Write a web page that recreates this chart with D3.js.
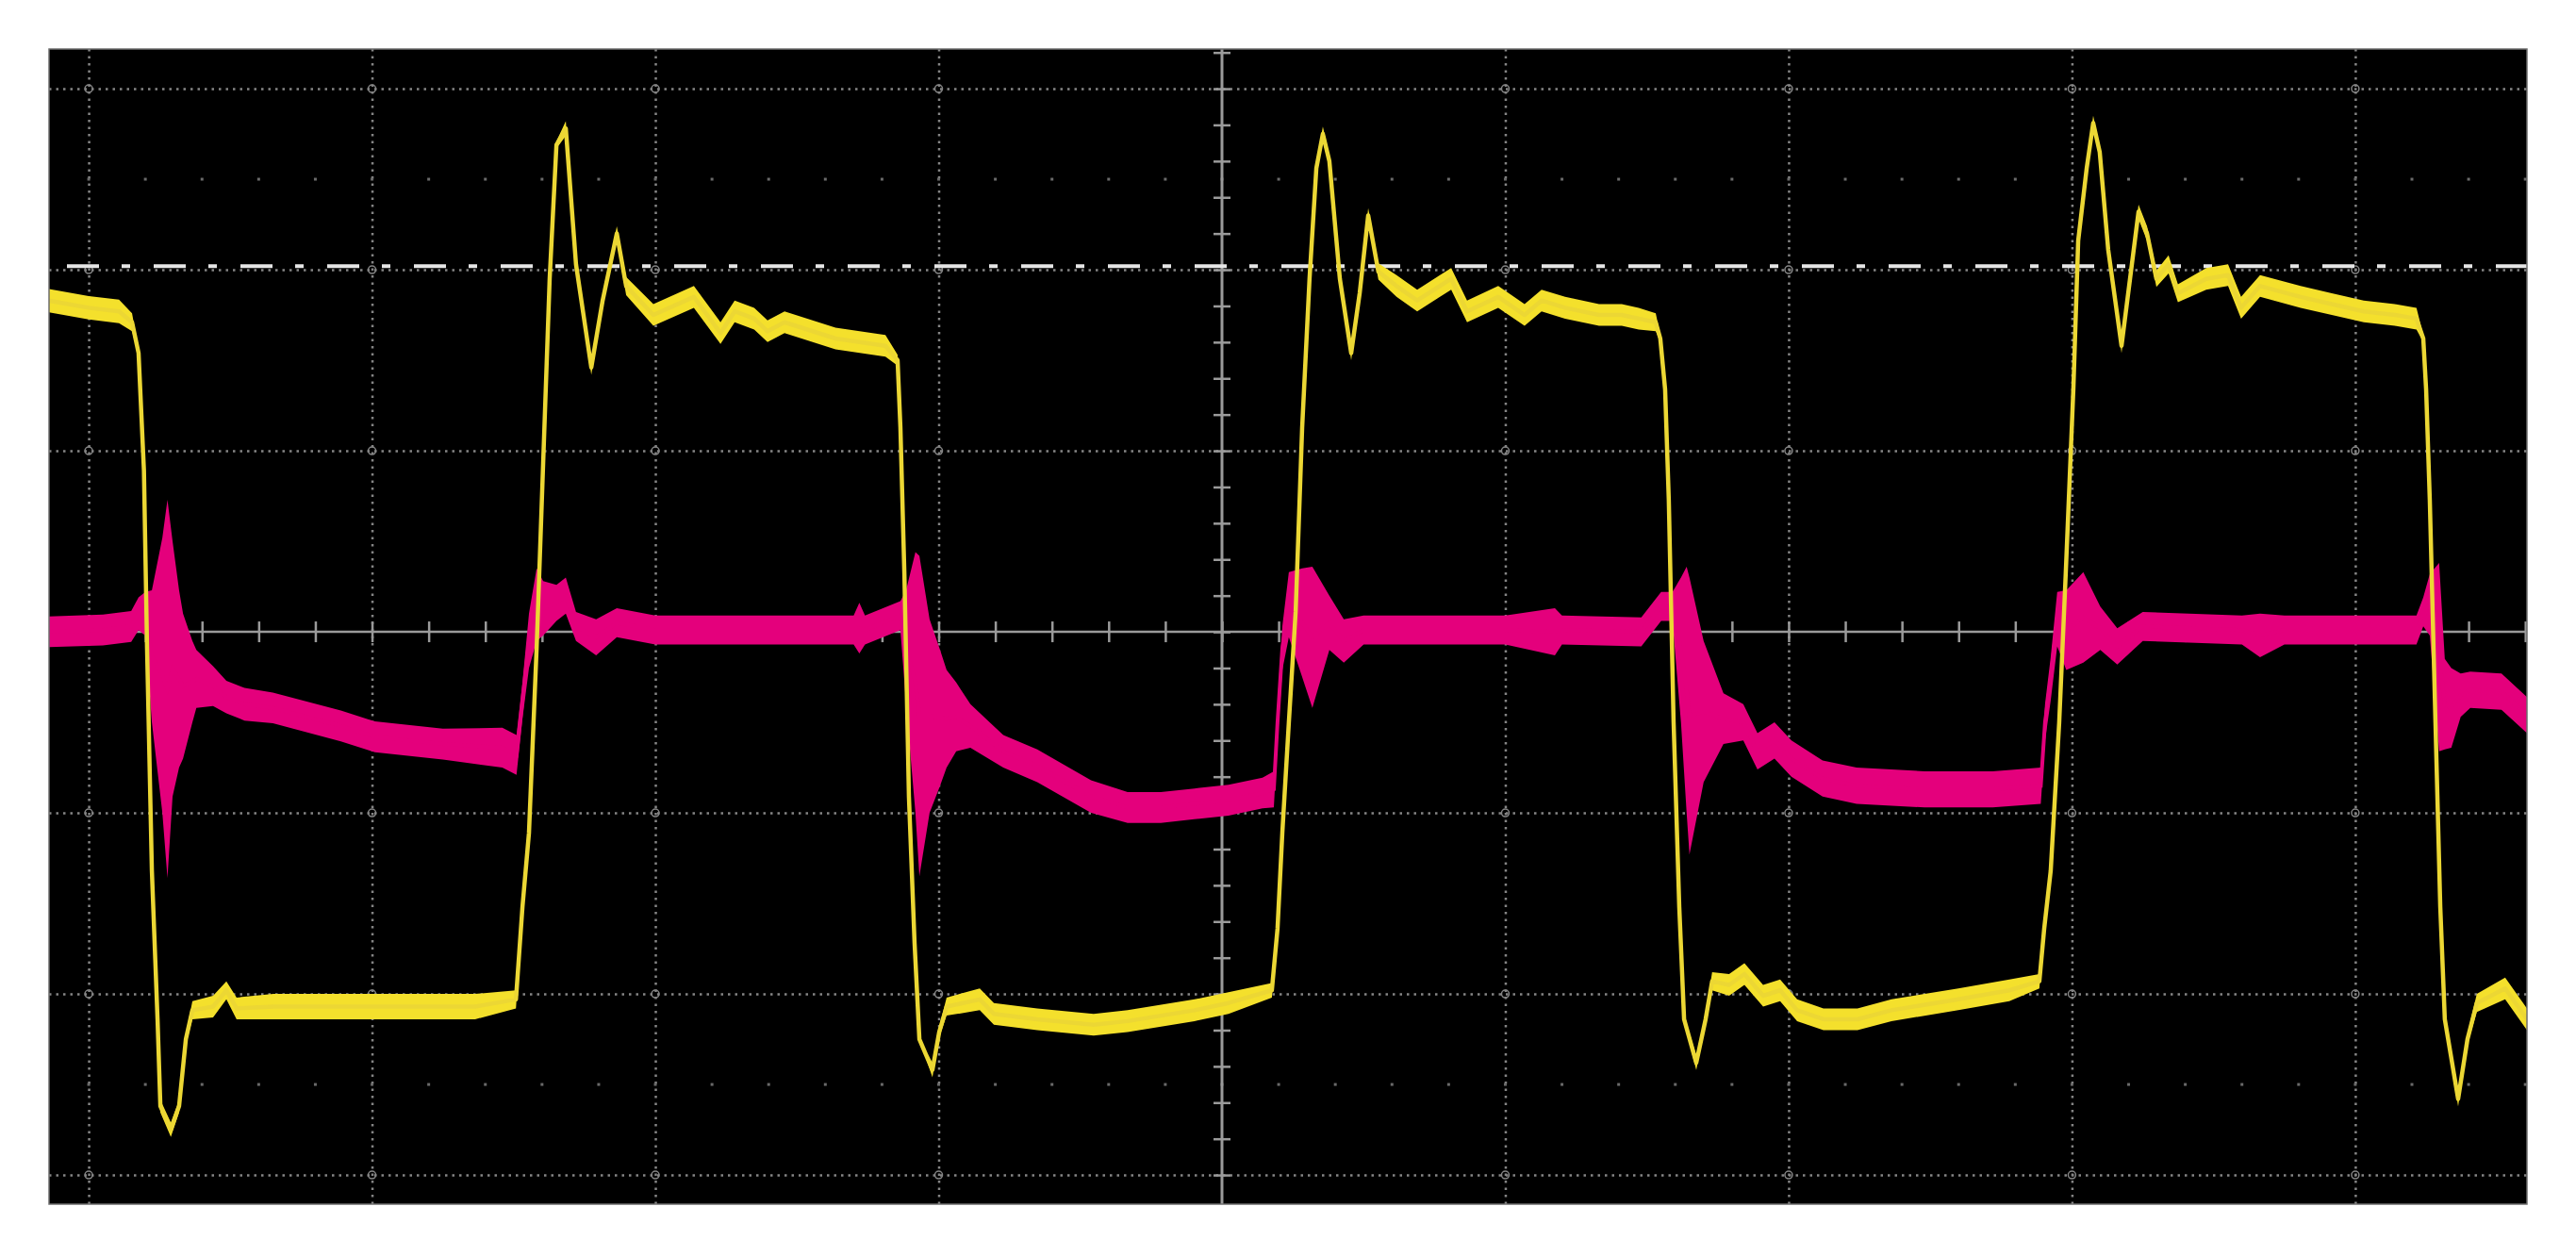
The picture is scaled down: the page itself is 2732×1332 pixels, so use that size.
<!DOCTYPE html>
<html><head><meta charset="utf-8">
<script src="https://cdn.jsdelivr.net/npm/d3@7"></script>
<style>html,body{margin:0;padding:0;background:#fff;}svg{display:block}</style>
</head><body>
<svg id="c" width="2732" height="1332"></svg>
<script>
// time in divisions from screen centre, value in divisions from centre
const yellowT = [-4.143,-4.0,-3.893,-3.847,-3.824,-3.805,-3.794,-3.777,-3.757,-3.747,
-3.710,-3.681,-3.657,-3.634,-3.561,-3.514,-3.478,-3.348,-2.992,-2.636,
-2.492,-2.469,-2.446,-2.419,-2.396,-2.373,-2.349,-2.316,-2.280,-2.226,
-2.186,-2.136,-2.103,-2.007,-1.864,-1.770,-1.720,-1.651,-1.604,-1.544,
-1.364,-1.188,-1.145,-1.135,-1.121,-1.105,-1.085,-1.068,-1.022,-0.998,
-0.972,-0.855,-0.805,-0.652,-0.453,-0.333,-0.097,0.023,0.176,0.196,
0.213,0.236,0.260,0.283,0.309,0.333,0.356,0.379,0.416,0.456,
0.486,0.516,0.552,0.616,0.689,0.809,0.865,0.975,1.068,1.128,
1.211,1.331,1.411,1.471,1.531,1.547,1.564,1.577,1.594,1.614,
1.631,1.674,1.707,1.730,1.790,1.844,1.910,1.970,2.030,2.123,
2.243,2.363,2.599,2.779,2.885,2.902,2.925,2.955,2.978,3.005,
3.022,3.052,3.075,3.098,3.128,3.175,3.205,3.235,3.265,3.298,
3.341,3.374,3.474,3.551,3.597,3.664,3.807,3.917,4.030,4.140,
4.216,4.240,4.250,4.263,4.283,4.300,4.316,4.363,4.396,4.429,
4.529,4.606];
const yellowV = [1.83,1.79,1.77,1.71,1.54,0.89,-0.09,-1.32,-2.14,-2.62,
-2.75,-2.62,-2.25,-2.09,-2.07,-1.98,-2.08,-2.07,-2.07,-2.07,
-2.03,-1.52,-1.11,-0.09,0.93,1.95,2.69,2.78,2.03,1.46,
1.83,2.20,1.91,1.75,1.85,1.65,1.77,1.73,1.66,1.71,
1.62,1.58,1.50,1.13,0.32,-0.91,-1.72,-2.25,-2.42,-2.21,
-2.07,-2.03,-2.11,-2.14,-2.17,-2.15,-2.09,-2.05,-1.98,-1.64,
-1.11,-0.50,0.11,1.13,1.95,2.56,2.75,2.60,1.95,1.54,
1.87,2.30,1.99,1.91,1.83,1.95,1.77,1.85,1.75,1.83,
1.79,1.75,1.75,1.73,1.71,1.62,1.34,0.73,-0.50,-1.52,
-2.14,-2.38,-2.14,-1.93,-1.95,-1.89,-2.01,-1.98,-2.09,-2.14,
-2.14,-2.09,-2.03,-1.98,-1.93,-1.64,-1.32,-0.50,0.32,1.34,
2.16,2.56,2.81,2.65,2.11,1.58,1.95,2.32,2.20,1.95,
2.03,1.87,1.95,1.97,1.79,1.91,1.85,1.81,1.77,1.75,
1.73,1.62,1.34,0.73,-0.50,-1.52,-2.14,-2.58,-2.25,-2.05,
-1.97,-2.14];
// half-thickness of the noisy yellow band (divisions)
const yellowW = [0.065,0.065,0.065,0.05,0.02,0,0,0,0.01,0.035,
0.04,0.035,0.03,0.05,0.06,0.05,0.06,0.07,0.07,0.07,
0.05,0,0,0,0,0,0.02,0.04,0.02,0.04,
0.03,0.04,0.05,0.06,0.06,0.06,0.06,0.06,0.06,0.06,
0.06,0.06,0.03,0,0,0,0,0,0.04,0.03,
0.05,0.06,0.06,0.06,0.06,0.06,0.06,0.06,0.04,0,
0,0,0,0,0,0.03,0.04,0.03,0.02,0.04,
0.03,0.04,0.045,0.06,0.06,0.06,0.06,0.06,0.06,0.06,
0.06,0.06,0.06,0.06,0.05,0.02,0,0,0,0,
0.02,0.04,0.03,0.05,0.06,0.06,0.06,0.06,0.06,0.06,
0.06,0.06,0.06,0.06,0.04,0,0,0,0,0,
0,0.03,0.04,0.03,0.02,0.04,0.03,0.04,0.04,0.045,
0.05,0.05,0.06,0.06,0.06,0.06,0.06,0.06,0.06,0.06,
0.06,0.02,0,0,0,0,0.02,0.04,0.03,0.05,
0.06,0.06];

const magentaT = [-4.143,-3.95,-3.85,-3.824,-3.800,-3.777,-3.740,-3.722,-3.704,-3.681,
-3.667,-3.634,-3.620,-3.561,-3.514,-3.45,-3.35,-3.11,-2.99,-2.75,
-2.54,-2.49,-2.469,-2.446,-2.419,-2.396,-2.349,-2.316,-2.280,-2.209,
-2.136,-2.0,-1.6,-1.30,-1.28,-1.26,-1.135,-1.115,-1.082,-1.068,
-1.032,-0.995,-0.972,-0.938,-0.888,-0.772,-0.652,-0.462,-0.333,-0.216,
-0.097,0.023,0.143,0.183,0.196,0.213,0.236,0.283,0.319,0.379,
0.43,0.50,1.0,1.175,1.20,1.48,1.55,1.59,1.62,1.64,
1.65,1.70,1.77,1.84,1.89,1.95,2.01,2.12,2.24,2.48,
2.72,2.89,2.905,2.925,2.948,2.98,3.04,3.10,3.16,3.25,
3.6,3.664,3.75,4.216,4.24,4.263,4.296,4.316,4.339,4.372,
4.406,4.516,4.606];
const magentaV = [0.00,0.01,0.03,0.10,0.10,-0.135,-0.24,-0.315,-0.205,-0.26,
-0.30,-0.275,-0.26,-0.30,-0.36,-0.40,-0.42,-0.52,-0.58,-0.62,
-0.64,-0.68,-0.38,-0.05,0.15,0.13,0.16,0.20,0.03,-0.03,
0.05,0.01,0.01,0.01,0.02,0.01,0.09,-0.085,-0.28,-0.465,
-0.465,-0.475,-0.48,-0.47,-0.52,-0.66,-0.74,-0.91,-0.97,-0.97,
-0.95,-0.93,-0.89,-0.87,-0.50,-0.09,0.15,0.05,-0.03,0.05,
-0.05,0.01,0.01,0.00,0.01,0.00,0.14,0.14,-0.10,-0.32,
-0.465,-0.44,-0.48,-0.50,-0.66,-0.60,-0.70,-0.81,-0.85,-0.87,
-0.87,-0.85,-0.50,-0.26,0.07,0.01,0.08,0.02,-0.08,0.03,
0.01,-0.02,0.01,0.01,0.11,0.15,-0.14,-0.40,-0.42,-0.35,
-0.32,-0.33,-0.46];
const magentaW = [0.085,0.085,0.085,0.09,0.12,0.365,0.76,1.045,0.705,0.49,
0.40,0.225,0.16,0.11,0.09,0.09,0.085,0.085,0.085,0.085,
0.11,0.11,0.10,0.15,0.20,0.15,0.10,0.10,0.08,0.10,
0.08,0.08,0.08,0.08,0.14,0.08,0.08,0.315,0.72,0.885,
0.535,0.375,0.27,0.19,0.12,0.09,0.09,0.09,0.085,0.085,
0.085,0.085,0.085,0.10,0.10,0.12,0.18,0.30,0.39,0.15,
0.12,0.08,0.08,0.13,0.08,0.08,0.08,0.08,0.40,0.68,
0.765,0.39,0.14,0.10,0.10,0.10,0.10,0.10,0.10,0.10,
0.10,0.10,0.10,0.12,0.15,0.22,0.25,0.12,0.10,0.08,
0.08,0.12,0.08,0.08,0.08,0.17,0.52,0.25,0.22,0.12,
0.10,0.10,0.10];

const gridX = [-4,-3,-2,-1,1,2,3,4];
const gridY = [-3,-2,-1,1,2,3];
const midRows = [-2.5, 2.5];
const refLevel = 2.02;

const X0 = 52, X1 = 2680, Y0 = 52, Y1 = 1277;
const x = d3.scaleLinear().domain([-4.14, 4.606]).range([X0, X1]);
const y = d3.scaleLinear().domain([-3.161, 3.219]).range([Y1, Y0]);

const svg = d3.select('#c');
svg.append('defs').append('clipPath').attr('id','clip')
  .append('rect').attr('x',X0).attr('y',Y0).attr('width',X1-X0).attr('height',Y1-Y0);
svg.append('rect').attr('x',X0).attr('y',Y0).attr('width',X1-X0).attr('height',Y1-Y0)
  .attr('fill','#000');

const g = svg.append('g').attr('clip-path','url(#clip)');
const gridCol = '#858585';

// dotted grid via axes
const vg = g.append('g').attr('transform',`translate(0,${Y1})`)
  .call(d3.axisBottom(x).tickValues(gridX).tickSize(-(Y1-Y0)).tickFormat(''));
vg.select('.domain').remove();
vg.selectAll('.tick line').attr('stroke',gridCol).attr('stroke-width',2.5).attr('stroke-dasharray','2.5,5');
const hg = g.append('g').attr('transform',`translate(${X0},0)`)
  .call(d3.axisLeft(y).tickValues(gridY).tickSize(-(X1-X0)).tickFormat(''));
hg.select('.domain').remove();
hg.selectAll('.tick line').attr('stroke',gridCol).attr('stroke-width',2.5).attr('stroke-dasharray','2.5,5');

// intersection markers
const inter = [];
gridX.forEach(a => gridY.forEach(b => inter.push([a,b])));
g.selectAll('circle.int').data(inter).join('circle').attr('class','int')
  .attr('cx',d=>x(d[0])).attr('cy',d=>y(d[1])).attr('r',4)
  .attr('fill','none').attr('stroke',gridCol).attr('stroke-width',1.5);

// mid-row dots
const dotXs = d3.range(-20, 24).map(i => i*0.2);
midRows.forEach(r => {
  g.selectAll(null).data(dotXs).join('rect')
    .attr('x',d=>x(d)-1.5).attr('y',y(r)-1.5).attr('width',3).attr('height',3)
    .attr('fill','#6a6a6a');
});

// centre axes with minor ticks
const axCol = '#9a9a9a';
const minorX = d3.range(-20, 24).map(i => +(i*0.2).toFixed(1));
const minorY = d3.range(-15, 17).map(i => +(i*0.2).toFixed(1));
const ha = g.append('g').attr('transform',`translate(0,${y(0)-11})`)
  .call(d3.axisBottom(x).tickValues(minorX).tickSize(22).tickFormat(''));
ha.select('.domain').remove();
ha.selectAll('.tick line').attr('stroke',axCol).attr('stroke-width',2.5);
g.append('line').attr('x1',X0).attr('x2',X1).attr('y1',y(0)).attr('y2',y(0))
  .attr('stroke',axCol).attr('stroke-width',2.5);
const va = g.append('g').attr('transform',`translate(${x(0)-9},0)`)
  .call(d3.axisRight(y).tickValues(minorY).tickSize(18).tickFormat(''));
va.select('.domain').remove();
va.selectAll('.tick line').attr('stroke',axCol).attr('stroke-width',2.5);
g.append('line').attr('x1',x(0)).attr('x2',x(0)).attr('y1',Y0).attr('y2',Y1)
  .attr('stroke',axCol).attr('stroke-width',3);

// reference dash-dot line
g.append('line').attr('x1',X0).attr('x2',X1).attr('y1',y(refLevel)).attr('y2',y(refLevel))
  .attr('stroke','#e6e6e6').attr('stroke-width',4)
  .attr('stroke-dasharray','34,24,9,25').attr('stroke-dashoffset',73);

// magenta trace (noise band)
const mData = magentaT.map((t,i)=>({t, v:magentaV[i], w:magentaW[i]}));
g.append('path').datum(mData)
  .attr('d', d3.area().x(d=>x(d.t)).y0(d=>y(d.v-d.w)).y1(d=>y(d.v+d.w)))
  .attr('fill','#e4007c');
g.append('path').datum(mData)
  .attr('d', d3.line().x(d=>x(d.t)).y(d=>y(d.v)))
  .attr('fill','none').attr('stroke','#e4007c').attr('stroke-width',4);

// yellow trace
const yData = yellowT.map((t,i)=>({t, v:yellowV[i], w:yellowW[i]}));
g.append('path').datum(yData)
  .attr('d', d3.area().x(d=>x(d.t)).y0(d=>y(d.v-d.w)).y1(d=>y(d.v+d.w)))
  .attr('fill','#f4e02c');
g.append('path').datum(yData)
  .attr('d', d3.line().x(d=>x(d.t)).y(d=>y(d.v)))
  .attr('fill','none').attr('stroke','#ecd734').attr('stroke-width',4.5)
  .attr('stroke-linejoin','round');

// frame
svg.append('rect').attr('x',X0).attr('y',Y0).attr('width',X1-X0).attr('height',Y1-Y0)
  .attr('fill','none').attr('stroke','#6e6e6e').attr('stroke-width',1.5);
</script>
</body></html>
